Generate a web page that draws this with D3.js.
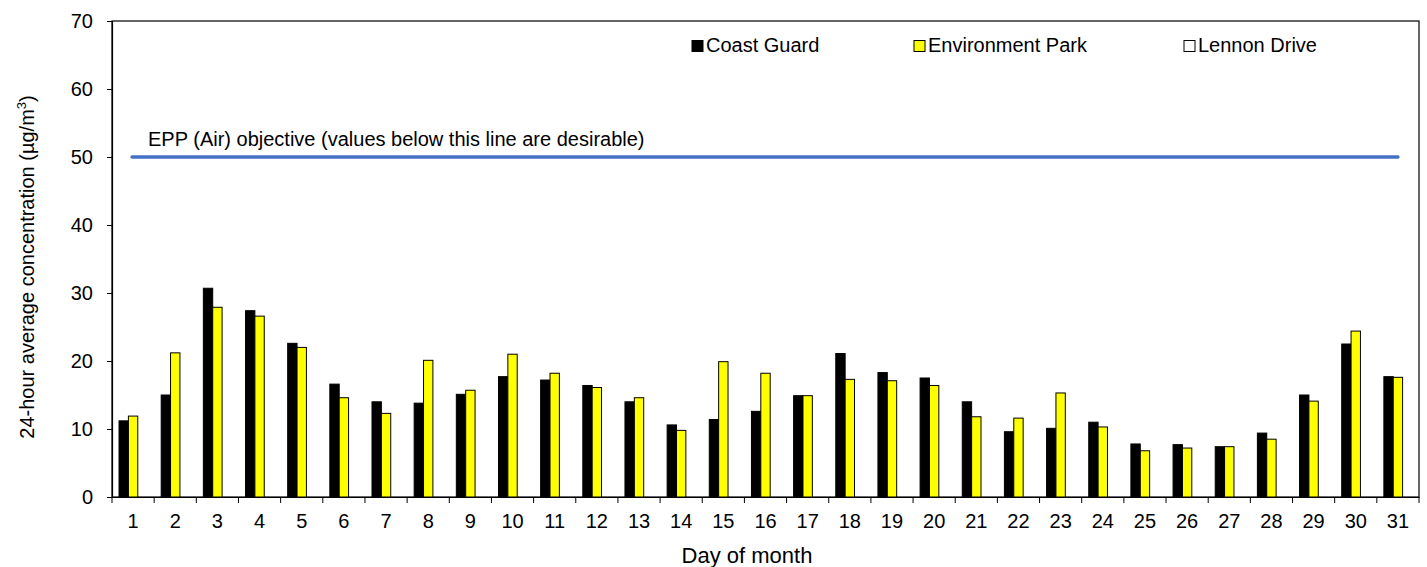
<!DOCTYPE html>
<html><head><meta charset="utf-8">
<script src="https://cdn.jsdelivr.net/npm/d3@7"></script>
<style>body{margin:0;background:#fff;} text{font-family:"Liberation Sans",Arial,sans-serif;}</style>
</head><body>
<svg id="c" width="1427" height="567"></svg>
<script>
const days = d3.range(1, 32).map(String);
const seriesNames = ["Coast Guard", "Environment Park", "Lennon Drive"];
const coastGuard = [11.2,15.0,30.7,27.4,22.6,16.6,14.0,13.8,15.1,17.7,17.2,16.4,14.0,10.6,11.4,12.6,14.9,21.1,18.3,17.5,14.0,9.6,10.1,11.0,7.8,7.7,7.4,9.4,15.0,22.5,17.7];
const envPark = [11.9,21.2,27.9,26.6,22.0,14.6,12.3,20.1,15.7,21.0,18.2,16.1,14.6,9.8,19.9,18.2,14.9,17.3,17.1,16.4,11.8,11.6,15.3,10.3,6.8,7.2,7.4,8.5,14.1,24.4,17.6];
const lennonDrive = days.map(() => null);
const yTicks = [0,10,20,30,40,50,60,70];
const objective = 50;
const objectiveLabel = "EPP (Air) objective (values below this line are desirable)";
const seriesColors = ["#000000", "#FFFF00", "#FFFFFF"];

const svg = d3.select("#c");
const m = {l:112, r:1419, t:21, b:497};
const x = d3.scaleBand().domain(days).range([m.l, m.r]).paddingInner(0).paddingOuter(0);
const y = d3.scaleLinear().domain([0,70]).range([m.b, m.t]);
// Excel style: bar width = band/(3+1.5)
const bw = x.bandwidth()/4.5;
const off = i => 0.75*bw + i*bw;

// plot border
svg.append("rect").attr("x", m.l).attr("y", m.t).attr("width", m.r-m.l).attr("height", m.b-m.t)
  .attr("fill","none").attr("stroke","#000").attr("stroke-width",1.2);

const allSeries = [coastGuard, envPark, lennonDrive];
allSeries.forEach((vals, si) => {
  svg.append("g").selectAll("rect").data(days.map((d,i)=>({d, v: vals[i]})).filter(o=>o.v!=null))
    .join("rect")
    .attr("x", o => x(o.d) + off(si))
    .attr("y", o => y(o.v))
    .attr("width", bw)
    .attr("height", o => y(0) - y(o.v))
    .attr("fill", seriesColors[si])
    .attr("stroke", "#000").attr("stroke-width", 1);
});

// objective line
svg.append("line")
  .attr("x1", x(days[0]) + x.bandwidth()/2 - 1)
  .attr("x2", x(days[days.length-1]) + x.bandwidth()/2)
  .attr("y1", y(objective)).attr("y2", y(objective))
  .attr("stroke", "#4472C4").attr("stroke-width", 3.5).attr("stroke-linecap","round");
svg.append("text").attr("x", 148).attr("y", y(objective) - 11)
  .attr("font-size", 20).attr("fill","#000").text(objectiveLabel);

// y axis
const ya = svg.append("g").attr("transform", `translate(${m.l},0)`)
  .call(d3.axisLeft(y).tickValues(yTicks).tickSize(5).tickPadding(14).tickFormat(d3.format("d")));
ya.select(".domain").attr("stroke","#000").attr("stroke-width",1.2);
ya.selectAll("text").attr("font-size",20).attr("fill","#000").attr("font-family","Liberation Sans, Arial, sans-serif");

// x axis: ticks at band boundaries
const xa = svg.append("g").attr("transform", `translate(0,${m.b})`)
  .call(d3.axisBottom(x).tickSize(0).tickPadding(17));
xa.select(".domain").attr("stroke","#000").attr("stroke-width",1.2);
xa.selectAll("text").attr("font-size",20).attr("fill","#000").attr("font-family","Liberation Sans, Arial, sans-serif");
svg.append("g").selectAll("line").data(d3.range(0, days.length+1))
  .join("line")
  .attr("x1", i => m.l + i*x.bandwidth()).attr("x2", i => m.l + i*x.bandwidth())
  .attr("y1", m.b).attr("y2", m.b+6).attr("stroke","#000").attr("stroke-width",1);

// axis titles
svg.append("text").attr("x", 747).attr("y", 563).attr("text-anchor","middle")
  .attr("font-size",22).text("Day of month");
const yt = svg.append("text").attr("transform", `translate(34,267) rotate(-90)`)
  .attr("text-anchor","middle").attr("font-size",20);
yt.append("tspan").text("24-hour average concentration (µg/m");
yt.append("tspan").attr("font-size",13).attr("dy",-8).text("3");
yt.append("tspan").attr("dy",8).text(")");

// legend
const legX = [692, 914, 1184];
seriesNames.forEach((n, i) => {
  svg.append("rect").attr("x", legX[i]).attr("y", 40.5).attr("width", 11).attr("height", 11)
    .attr("fill", seriesColors[i]).attr("stroke","#000").attr("stroke-width",1);
  svg.append("text").attr("x", legX[i]+14).attr("y", 52).attr("font-size",20).text(n);
});
</script>
</body></html>
